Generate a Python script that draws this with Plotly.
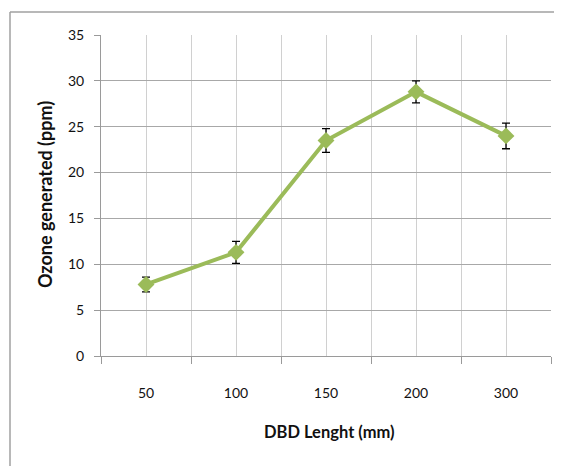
import plotly.graph_objects as go

categories = ["50", "100", "150", "200", "300"]
ozone_ppm = [7.8, 11.3, 23.5, 28.8, 24.0]
error_ppm = [0.8, 1.2, 1.3, 1.2, 1.4]
y_ticks = [0, 5, 10, 15, 20, 25, 30, 35]

x_idx = list(range(len(categories)))
boundaries = [i - 0.5 for i in range(len(categories) + 1)]

FONT = "Lato, 'Open Sans', sans-serif"

# page body has an 8px margin; figure shifted accordingly
OFF = 8
L, T = 101 - OFF, 35 - OFF
PW, PH = 450, 321


def px_x(p):
    return (p - 101) / PW


def px_y(p):
    return (356 - p) / PH


fig = go.Figure()
fig.add_trace(go.Scatter(
    x=x_idx, y=ozone_ppm,
    mode="lines+markers",
    line=dict(color="#9BBB59", width=4),
    marker=dict(symbol="diamond", size=13, color="#9BBB59"),
    error_y=dict(type="data", array=error_ppm, visible=True,
                 color="#000000", thickness=1.3, width=4),
    showlegend=False,
))

fig.update_layout(
    width=562 - OFF, height=466 - OFF,
    margin=dict(l=L, r=562 - OFF - L - PW, t=T, b=466 - OFF - T - PH),
    paper_bgcolor="white", plot_bgcolor="white",
    font=dict(family=FONT, size=14, color="#111111"),
    xaxis=dict(
        range=[-0.5, len(categories) - 0.5],
        tickmode="array", tickvals=x_idx, ticktext=categories,
        ticks="", showgrid=True, gridcolor="#D0D0D0", gridwidth=1,
        showline=True, linecolor="#9A9A9A", linewidth=1,
        zeroline=False,
        ticklabelstandoff=24,
        tickfont=dict(size=14, color="#111111"),
        minor=dict(tickmode="array", tickvals=boundaries, ticks="outside",
                   ticklen=7, tickcolor="#9A9A9A", showgrid=True,
                   gridcolor="#D0D0D0", gridwidth=1),
        fixedrange=True,
    ),
    yaxis=dict(
        range=[0, 35],
        tickmode="array", tickvals=y_ticks,
        ticks="outside", ticklen=6, tickcolor="#9A9A9A",
        showgrid=True, gridcolor="#A8A8A8", gridwidth=1,
        showline=True, linecolor="#9A9A9A", linewidth=1,
        zeroline=False,
        ticklabelstandoff=7,
        tickfont=dict(size=14, color="#111111"),
        fixedrange=True,
    ),
    annotations=[
        dict(text="<b>DBD Lenght (mm)</b>", xref="paper", yref="paper",
             x=px_x(329.5), y=px_y(432), xanchor="center", yanchor="middle",
             showarrow=False, font=dict(size=16.5, color="#111111")),
        dict(text="<b>Ozone generated (ppm)</b>", xref="paper", yref="paper",
             x=px_x(45), y=px_y(195), xanchor="center", yanchor="middle",
             textangle=-90, showarrow=False,
             font=dict(size=18, color="#111111")),
    ],
    shapes=[
        dict(type="line", xref="paper", yref="paper",
             x0=px_x(10), x1=1.05, y0=px_y(12), y1=px_y(12),
             line=dict(color="#A0A0A0", width=1.5)),
        dict(type="line", xref="paper", yref="paper",
             x0=px_x(10), x1=px_x(10), y0=px_y(12), y1=-0.4,
             line=dict(color="#A0A0A0", width=1.5)),
    ],
)

fig.write_html("out.html")
